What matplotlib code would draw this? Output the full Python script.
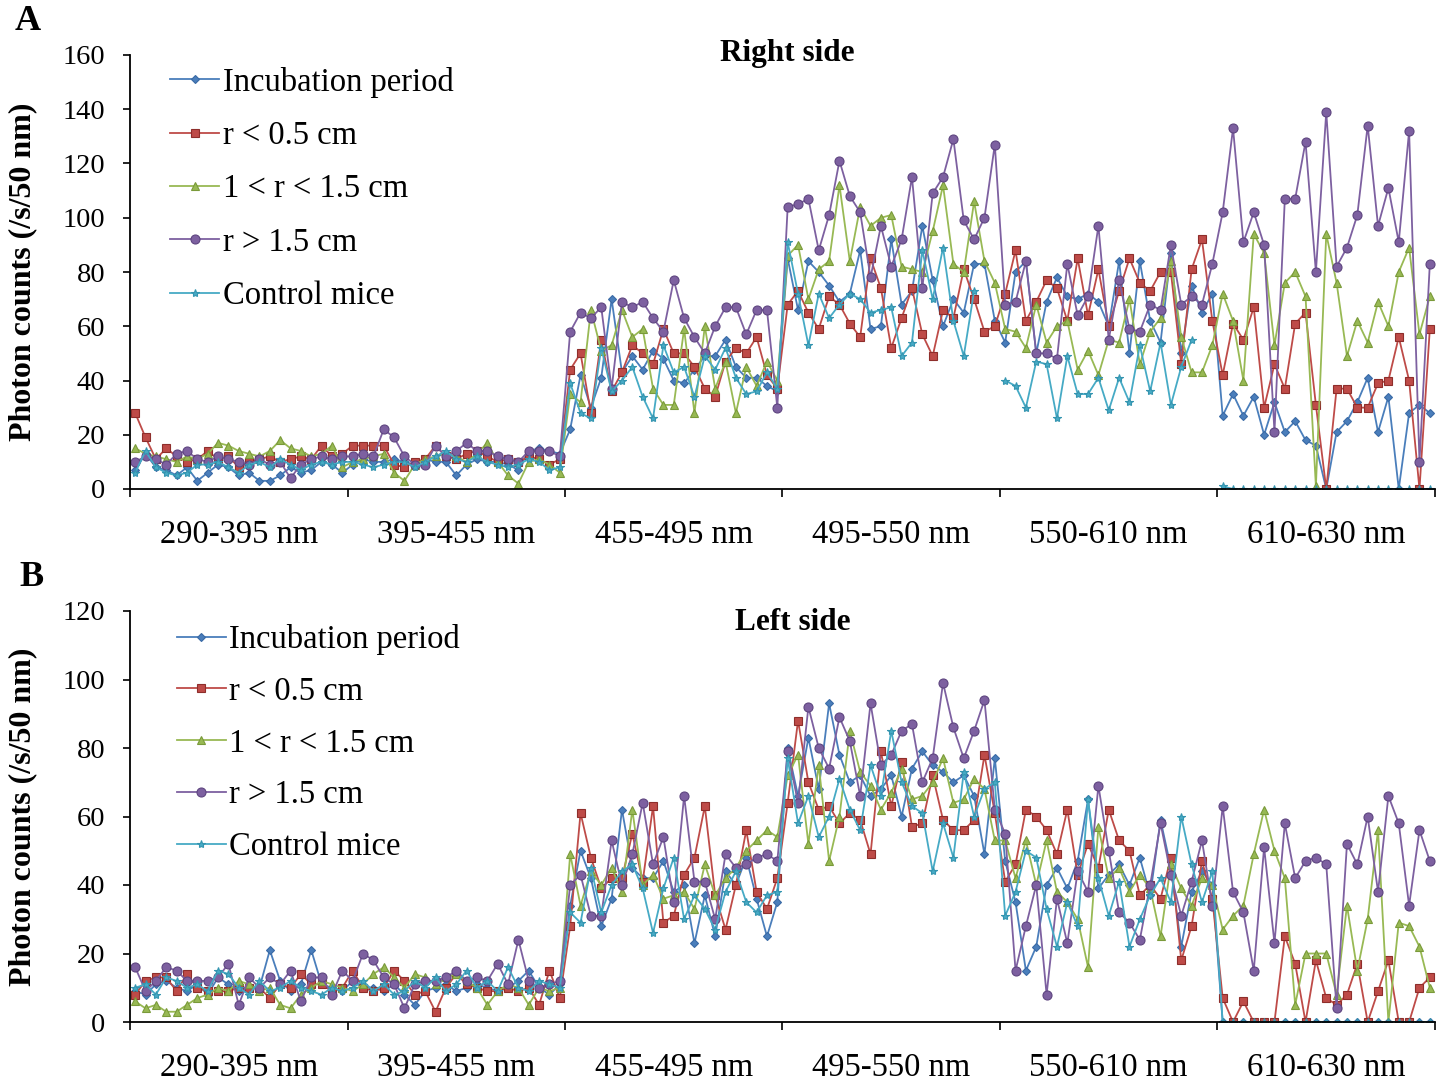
import numpy as np
import matplotlib.pyplot as plt

# wavelength bands on the x axis, 21 readings per band
bands = ['290-395 nm', '395-455 nm', '455-495 nm', '495-550 nm', '550-610 nm', '610-630 nm']
pts_per_band = 21
series_names = ['Incubation period', 'r < 0.5 cm', '1 < r < 1.5 cm', 'r > 1.5 cm', 'Control mice']
nan = np.nan

# ---- A: right side (photon counts /s/50 nm) ----
right_incubation = [
    7, 13, 8, 7, 5, 8, 3, 6, 9, 8, 5, 6, 3, 3, 5, 8, 6, 7, 10, 9, 6,
    9, 11, 10, 10, 11, 10, 9, 11, 10, 10, 5, 9, 11, 10, 10, 9, 7, 14, 15, 14, 13,
    22, 42, 30, 41, 70, 43, 49, 44, 51, 48, 40, 39, 44, 49, 49, 55, 45, 41, 41, 38, 36,
    85, 66, 84, 80, 75, 69, 72, 88, 59, 60, 92, 68, 73, 97, 77, 60, 70, 65, 83, 83, 62,
    54, 80, 84, 50, 69, 78, 71, 70, 72, 69, 60, 84, 50, 84, 62, 54, 87, 50, 75, 65, 72,
    27, 35, 27, 34, 20, 32, 21, 25, 18, 16, 0, 21, 25, 32, 41, 21, 34, 0, 28, 31, 28]
right_r05 = [
    28, 19, 11, 15, 12, 10, 11, 14, 11, 12, 8, 10, 11, 12, 10, 11, 12, 11, 16, 12, 13,
    16, 16, 16, 16, 9, 8, 10, 11, 16, 12, 11, 13, 14, 12, 10, 11, 10, 12, 11, 9, 11,
    44, 50, 28, 55, 36, 43, 53, 50, 46, 59, 50, 50, 45, 37, 34, 47, 52, 50, 56, 42, 37,
    68, 73, 65, 59, 71, 68, 61, 56, 85, 74, 52, 63, 74, 57, 49, 66, 63, 81, 70, 58, 60,
    72, 88, 62, 69, 77, 74, 62, 85, 64, 81, 60, 73, 85, 76, 73, 80, 80, 46, 81, 92, 62,
    42, 61, 55, 67, 30, 46, 37, 61, 65, 31, 0, 37, 37, 30, 30, 39, 40, 56, 40, 0, 59]
right_r1_15 = [
    15, 13, 12, 11, 10, 12, 11, 13, 17, 16, 14, 13, 12, 14, 18, 15, 14, 12, 13, 16, 8,
    10, 11, 12, 13, 6, 3, 9, 11, 12, 13, 12, 10, 13, 17, 10, 5, 2, 10, 11, 9, 6,
    35, 32, 66, 51, 53, 66, 56, 59, 37, 31, 31, 59, 28, 60, 37, 47, 28, 45, 38, 47, 40,
    86, 90, 70, 81, 84, 112, 84, 104, 97, 100, 101, 82, 81, 80, 95, 112, 83, 80, 106, 84, 76,
    59, 58, 52, 68, 54, 60, 62, 44, 51, 42, 55, 54, 70, 46, 58, 63, 84, 56, 43, 43, 53,
    72, 62, 40, 94, 87, 53, 76, 80, 71, 1, 94, 76, 49, 62, 54, 69, 60, 80, 89, 57, 71]
right_r15 = [
    10, 12, 11, 9, 13, 14, 11, 10, 12, 11, 10, 9, 11, 9, 10, 4, 9, 11, 12, 11, 12,
    12, 13, 12, 22, 19, 12, 9, 9, 16, 12, 14, 17, 14, 14, 12, 11, 10, 14, 14, 14, 12,
    58, 65, 63, 67, 37, 69, 67, 69, 63, 58, 77, 63, 56, 50, 60, 67, 67, 57, 66, 66, 30,
    104, 105, 107, 88, 101, 121, 108, 102, 78, 97, 82, 92, 115, 74, 109, 115, 129, 99, 92, 100, 127,
    68, 69, 84, 50, 50, 48, 83, 64, 71, 97, 55, 77, 59, 58, 68, 66, 90, 68, 71, 68, 83,
    102, 133, 91, 102, 90, 21, 107, 107, 128, 80, 139, 82, 89, 101, 134, 97, 111, 91, 132, 10, 83]
right_control = [
    6, 14, 8, 6, 5, 6, 9, 9, 10, 8, 6, 9, 10, 8, 11, 9, 7, 9, 10, 9, 10,
    10, 9, 8, 9, 10, 10, 8, 10, 12, 14, 11, 10, 12, 10, 9, 8, 9, 11, 10, 7, 8,
    39, 28, 26, 52, 36, 40, 45, 34, 26, 53, 43, 45, 34, 49, 44, 52, 41, 35, 36, 43, 37,
    91, 72, 53, 72, 63, 68, 72, 70, 65, 66, 67, 49, 54, 88, 70, 89, 62, 49, 73, nan, nan,
    40, 38, 30, 47, 46, 26, 49, 35, 35, 41, 29, 41, 32, 53, 36, 54, 31, 45, 55, nan, nan,
    1, 0, 0, 0, 0, 0, 0, 0, 0, 0, 0, 0, 0, 0, 0, 0, 0, 0, 0, 0, 0]

# ---- B: left side ----
left_incubation = [
    9, 8, 11, 12, 10, 9, 11, 8, 13, 11, 9, 10, 10, 21, 12, 9, 11, 21, 11, 10, 9,
    12, 10, 10, 9, 11, 8, 5, 9, 10, 11, 9, 10, 11, 10, 9, 10, 12, 15, 10, 8, 11,
    34, 50, 42, 28, 36, 62, 45, 42, 42, 47, 38, 40, 23, 37, 25, 44, 40, 48, 36, 25, 35,
    80, 66, 83, 68, 93, 78, 70, 72, 66, 68, 72, 60, 74, 79, 75, 73, 70, 72, 66, 49, 77,
    47, 35, 15, 22, 40, 45, 39, 47, 65, 39, 43, 46, 40, 48, 37, 59, 45, 22, 38, 44, 40,
    0, 0, 0, 0, 0, 0, 0, 0, 0, 0, 0, 0, 0, 0, 0, 0, 0, 0, 0, 0, 0]
left_r05 = [
    8, 12, 13, 13, 9, 14, 10, 9, 9, 9, 10, 10, 10, 7, 11, 10, 14, 11, 11, 9, 10,
    15, 10, 9, 10, 15, 12, 8, 9, 3, 10, 14, 11, 10, 9, 9, 10, 9, 10, 5, 15, 7,
    28, 61, 48, 39, 42, 42, 55, 41, 63, 29, 31, 43, 48, 63, 37, 27, 40, 56, 38, 33, 42,
    64, 88, 70, 62, 63, 58, 61, 59, 49, 79, 63, 76, 57, 58, 72, 59, 56, 56, 59, 78, 61,
    41, 46, 62, 60, 56, 49, 62, 43, 52, 45, 62, 53, 50, 37, 40, 36, 48, 18, 28, 47, 36,
    7, 0, 6, 0, 0, 0, 25, 17, 0, 18, 7, 5, 8, 17, 0, 9, 18, 0, 0, 10, 13]
left_r1_15 = [
    6, 4, 5, 3, 3, 5, 7, 8, 10, 9, 12, 11, 9, 10, 5, 4, 8, 10, 12, 11, 10,
    9, 11, 14, 16, 13, 10, 14, 13, 11, 13, 14, 12, 10, 5, 9, 11, 10, 5, 10, 9, 10,
    49, 34, 44, 40, 45, 38, 62, 40, 43, 36, 37, 38, 33, 46, 37, 42, 45, 50, 53, 56, 54,
    72, 78, 52, 75, 47, 60, 85, 73, 69, 62, 67, 74, 65, 66, 70, 77, 64, 65, 71, 68, 53,
    53, 42, 53, 40, 53, 38, 35, 30, 16, 57, 42, 45, 38, 43, 39, 25, 46, 39, 34, 42, 40,
    27, 31, 34, 49, 62, 50, 42, 5, 20, 20, 20, 8, 34, 15, 30, 56, 0, 29, 28, 22, 10]
left_r15 = [
    16, 9, 12, 16, 15, 12, 12, 12, 13, 17, 5, 13, 10, 13, 11, 15, 6, 13, 13, 8, 15,
    12, 20, 18, 13, 11, 4, 11, 12, 12, 13, 15, 12, 13, 12, 17, 11, 24, 12, 10, 11, 12,
    40, 43, 31, 31, 53, 40, 49, 64, 46, 54, 35, 66, 41, 41, 30, 49, 45, 46, 48, 49, 47,
    79, 64, 92, 80, 74, 89, 82, 66, 93, 75, 78, 85, 87, 70, 77, 99, 86, 77, 85, 94, 62,
    55, 15, 28, 40, 8, 36, 23, 44, 38, 69, 50, 32, 29, 24, 40, 58, 43, 31, 41, 53, 34,
    63, 38, 32, 15, 51, 23, 58, 42, 47, 48, 46, 4, 52, 46, 60, 38, 66, 58, 34, 56, 47]
left_control = [
    10, 11, 8, 13, 12, 10, 11, 9, 15, 14, 10, 8, 12, 9, 10, 12, 10, 9, 8, 10, 9,
    10, 12, 9, 11, 8, 9, 12, 10, 13, 9, 11, 15, 10, 12, 9, 16, 10, 9, 12, 11, 10,
    32, 29, 45, 32, 40, 44, 46, 39, 26, 39, 48, 30, 37, 33, 27, 38, 44, 35, 32, 37, 38,
    77, 58, 66, 54, 60, 71, 62, 56, 75, 66, 85, 70, 63, 61, 44, 58, 48, 73, 60, 68, 70,
    31, 38, 50, 48, 33, 22, 35, 28, 65, 42, 31, 41, 22, 30, 37, 42, 35, 60, 46, 35, 44,
    0, 0, 0, 0, 0, 0, 0, 0, 0, 0, 0, 0, 0, 0, 0, 0, 0, 0, 0, 0, 0]

plt.rcParams['font.family'] = ['Liberation Serif', 'DejaVu Serif']

# excel 2007 style series colours / markers
colors = ['#4A7EBB', '#BE4B48', '#98B954', '#7D60A0', '#46AAC5']
edges = ['#3A6AA5', '#8E2E2B', '#7A9A3A', '#5E4580', '#3595B0']
markers = ['D', 's', '^', 'o', '*']
msizes = [4, 6, 6, 6.5, 6]

W, H = 1443, 1084
fig = plt.figure(figsize=(W / 100, H / 100), dpi=100)


def make_panel(rect, data, ymax, title, title_xy, leg_xy, leg_space, letter, letter_xy):
    ax = fig.add_axes(rect)
    x = np.arange(len(data[0]))
    for vals, name, c, ec, m, ms in zip(data, series_names, colors, edges, markers, msizes):
        ax.plot(x, np.array(vals, dtype=float), color=c, lw=1.3, marker=m, ms=ms,
                mfc=c, mec=ec, mew=0.8, label=name)

    n = len(bands) * pts_per_band
    ax.set_xlim(-0.5, n - 0.5)
    ax.set_ylim(0, ymax)
    ax.set_yticks(np.arange(0, ymax + 1, 20))
    ax.set_xticks(np.arange(-0.5, n, pts_per_band))
    ax.set_xticklabels([])
    ax.set_xticks(np.arange(len(bands)) * pts_per_band + (pts_per_band - 1) / 2, minor=True)
    ax.set_xticklabels(bands, minor=True, fontsize=23.5)
    ax.tick_params(axis='x', which='major', direction='out', length=6, width=1.2)
    ax.tick_params(axis='x', which='minor', length=0, pad=22)
    ax.tick_params(axis='y', direction='out', length=5, width=1.2, pad=13, labelsize=20.5)

    for s in ['top', 'right']:
        ax.spines[s].set_visible(False)
    for s in ['left', 'bottom']:
        ax.spines[s].set_linewidth(1.3)

    ax.set_ylabel('Photon counts (/s/50 nm)', fontsize=23, fontweight='bold')
    ax.yaxis.set_label_coords(-0.071, 0.5)

    ax.text(title_xy[0], title_xy[1], title, transform=ax.transAxes, ha='center',
            va='center', fontsize=22.5, fontweight='bold')

    ax.legend(loc='upper left', bbox_to_anchor=leg_xy, frameon=False, fontsize=23.5,
              handlelength=1.5, handletextpad=0.1, labelspacing=leg_space, borderpad=0,
              borderaxespad=0)
    fig.text(letter_xy[0], letter_xy[1], letter, fontsize=26, fontweight='bold',
             ha='center', va='center')
    return ax


left_px, right_px = 130, 1435
axw = (right_px - left_px) / W

# A: plot area y 55..489 px
make_panel([left_px / W, 1 - 489 / H, axw, (489 - 55) / H],
           [right_incubation, right_r05, right_r1_15, right_r15, right_control],
           160, 'Right side', (0.504, 1.004), (0.031, 0.973), 0.7,
           'A', (28 / W, 1 - 22 / H))

# B: plot area y 611..1022 px
make_panel([left_px / W, 1 - 1022 / H, axw, (1022 - 611) / H],
           [left_incubation, left_r05, left_r1_15, left_r15, left_control],
           120, 'Left side', (0.508, 0.971), (0.036, 0.968), 0.65,
           'B', (31 / W, 1 - 578 / H))

plt.savefig('out.png', dpi=100)
